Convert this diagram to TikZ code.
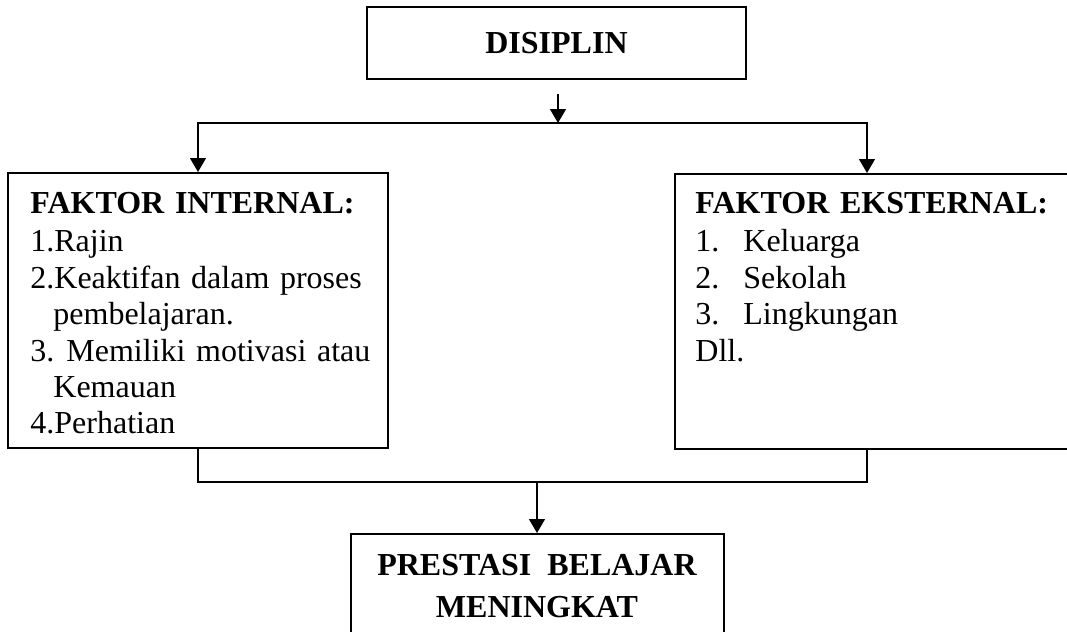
\documentclass[tikz,border=0pt]{standalone}
\usepackage{fontspec}
\setmainfont{Liberation Serif}
\usetikzlibrary{arrows.meta, positioning, calc}

\tikzset{
  box/.style={draw=black, line width=1pt, inner sep=0pt},
  link/.style={draw=black, line width=0.7pt},
  arr/.style={link, -{Triangle[width=8pt, length=7pt]}},
  list/.style={anchor=north west, inner sep=0pt, align=left, text width=#1, font=\fontsize{16}{18.2}\selectfont},
}

\begin{document}
\begin{tikzpicture}[x=0.5pt, y=-0.5pt]
  \useasboundingbox (0,0) rectangle (1067,632);

  % boxes
  \node[box, minimum width=189.5pt, minimum height=36pt, font=\fontsize{16}{18}\selectfont\bfseries] (disiplin) at (556.5,43) {DISIPLIN};
  \node[box, minimum width=190pt, minimum height=137.5pt] (internal) at (198,310.5) {};
  \node[box, anchor=north west, minimum width=215pt, minimum height=137.5pt] (external) at (674,173) {};
  \node[box, minimum width=186.5pt, minimum height=52pt, align=center, font=\fontsize{16}{21}\selectfont\bfseries] (prestasi) at (537,586) {PRESTASI\hspace{8pt}BELAJAR\\MENINGKAT};

  % box texts
  \node[list=180pt] (internaltext) at (30,192) {\textbf{FAKTOR INTERNAL:}\\[1pt]
    1.Rajin\\
    2.Keaktifan dalam proses\\
    \hspace*{11.5pt}pembelajaran.\\
    3.\hspace{6pt}Memiliki motivasi atau\\
    \hspace*{11.5pt}Kemauan\\
    4.Perhatian};
  \node[list=180pt] (externaltext) at (695,192) {\textbf{FAKTOR EKSTERNAL:}\\[1pt]
    \makebox[24pt][l]{1.}Keluarga\\
    \makebox[24pt][l]{2.}Sekolah\\
    \makebox[24pt][l]{3.}Lingkungan\\
    Dll.};

  % connectors
  \coordinate (disout) at (558,94);
  \coordinate (split) at (558,123);
  \coordinate (merge) at (537,482);
  \coordinate (extin) at ($(external.north west)+(193,0)$);
  \coordinate (extout) at ($(external.south west)+(193,0)$);

  \draw[arr] (disout) -- (split);
  \draw[arr] (split) -| (internal.north);
  \draw[arr] (split) -| (extin);
  \draw[link] (internal.south) |- (merge) -| (extout);
  \draw[arr] (merge) -- (prestasi.north);
\end{tikzpicture}
\end{document}
